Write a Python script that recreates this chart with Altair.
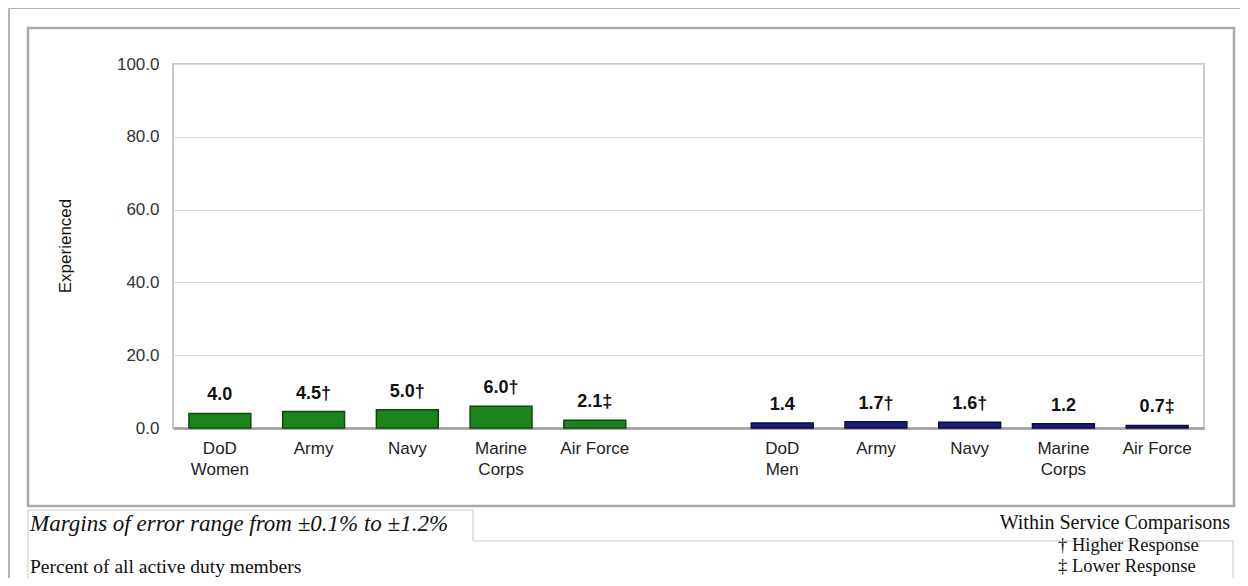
import altair as alt
import pandas as pd

# ---- data ----
keys = ["W_DoD", "W_Army", "W_Navy", "W_MC", "W_AF", "gap", "M_DoD", "M_Army", "M_Navy", "M_MC", "M_AF"]
labels = ["DoD\nWomen", "Army", "Navy", "Marine\nCorps", "Air Force", "",
          "DoD\nMen", "Army", "Navy", "Marine\nCorps", "Air Force"]
values = [4.0, 4.5, 5.0, 6.0, 2.1, None, 1.4, 1.7, 1.6, 1.2, 0.7]
markers = ["", "†", "†", "†", "‡", "", "", "†", "†", "", "‡"]
groups = ["Women", "Women", "Women", "Women", "Women", "", "Men", "Men", "Men", "Men", "Men"]
y_ticks = [0, 20, 40, 60, 80, 100]

df = pd.DataFrame({"key": keys, "label": labels, "value": values,
                   "marker": markers, "group": groups})
df["txt"] = [("" if v is None or pd.isna(v) else f"{v:.1f}{m}") for v, m in zip(df["value"], df["marker"])]
bars_df = df[df["group"] != ""]

W, H = 1031, 364
SANS = "Liberation Sans"
SERIF = "Liberation Serif"

xscale = alt.Scale(domain=keys, paddingInner=0.34, paddingOuter=0.17)
yscale = alt.Scale(domain=[0, 100], nice=False)

base = alt.Chart(bars_df)

bars = base.mark_bar(strokeWidth=1.5).encode(
    x=alt.X("key:N", scale=xscale, axis=alt.Axis(labels=False, ticks=False, title=None,
                                                domainColor="#a8a8a8", domainWidth=3)),
    y=alt.Y("value:Q", scale=yscale,
            axis=alt.Axis(values=y_ticks, format=".1f", title=None, ticks=False, domain=False,
                          labelFont=SANS, labelFontSize=17, labelColor="#333333",
                          labelPadding=14, gridColor="#d9d9d9", gridWidth=1.2)),
    color=alt.Color("group:N", scale=alt.Scale(domain=["Women", "Men"], range=["#1d831d", "#1c1c7a"]), legend=None),
    stroke=alt.Stroke("group:N", scale=alt.Scale(domain=["Women", "Men"], range=["#0b4a0b", "#0a0a45"]), legend=None),
)

vlabels = base.mark_text(font=SANS, fontSize=18, fontWeight="bold", color="#111111",
                         baseline="bottom", dy=-9).encode(
    x=alt.X("key:N", scale=xscale), y=alt.Y("value:Q", scale=yscale), text="txt:N")

catlabels = alt.Chart(df).mark_text(font=SANS, fontSize=17, color="#222222", baseline="middle",
                                    lineBreak="\n", lineHeight=21).encode(
    x=alt.X("key:N", scale=xscale), y=alt.value(H + 21), text="label:N")

one = pd.DataFrame({"a": [0]})

def txt(s, x, y, font=SERIF, size=19, align="left", style="normal", angle=0, color="#111111"):
    kw = dict(font=font, fontSize=size, align=align, baseline="middle", fontStyle=style, color=color)
    if angle:
        kw["angle"] = angle
    return alt.Chart(one).mark_text(**kw).encode(x=alt.value(x), y=alt.value(y), text=alt.value(s))

def rule(x1, y1, x2, y2, color="#c8c8c8", w=1):
    return alt.Chart(one).mark_rule(color=color, strokeWidth=w).encode(
        x=alt.value(x1), x2=alt.value(x2), y=alt.value(y1), y2=alt.value(y2))

# page coords -> plot coords: x - 173, y - 64
ox, oy = 173, 64
def P(x, y):
    return x - ox, y - oy

frame = alt.Chart(one).mark_rect(fill=None, stroke="#ababab", strokeWidth=2.5).encode(
    x=alt.value(P(28, 0)[0]), x2=alt.value(P(1234, 0)[0]),
    y=alt.value(P(0, 28)[1]), y2=alt.value(P(0, 506)[1]))

decor = [
    frame,
    rule(*P(9, 8), *P(1248, 8), color="#b4b4b4", w=2),
    rule(*P(9, 8), *P(9, 586), color="#b4b4b4", w=2),
    rule(*P(28, 510), *P(473, 510)),
    rule(*P(28, 510), *P(28, 586)),
    rule(*P(473, 510), *P(473, 541)),
    rule(*P(473, 541), *P(1233, 541)),
    rule(*P(1233, 541), *P(1233, 586)),
]

texts = [
    txt("Experienced", *P(66, 246), font=SANS, size=17, align="center", angle=270),
    txt("Margins of error range from ±0.1% to ±1.2%", *P(30, 524), size=23, style="italic"),
    txt("Percent of all active duty members", *P(30, 567), size=19.5),
    txt("Within Service Comparisons", *P(1230, 523), size=20, align="right"),
    txt("† Higher Response", *P(1058, 545), size=18.5),
    txt("‡ Lower Response", *P(1058, 566), size=18.5),
]

chart = alt.layer(*decor, bars, vlabels, catlabels, *texts).properties(
    width=W, height=H,
    autosize=alt.AutoSizeParams(type="none"),
    padding={"left": 165, "top": 56, "right": 36, "bottom": 150},
).configure_view(stroke="#b8b8b8", strokeWidth=1.5).resolve_scale(color="independent", stroke="independent")

chart.save("out.html", embed_options={"renderer": "svg", "actions": False})
